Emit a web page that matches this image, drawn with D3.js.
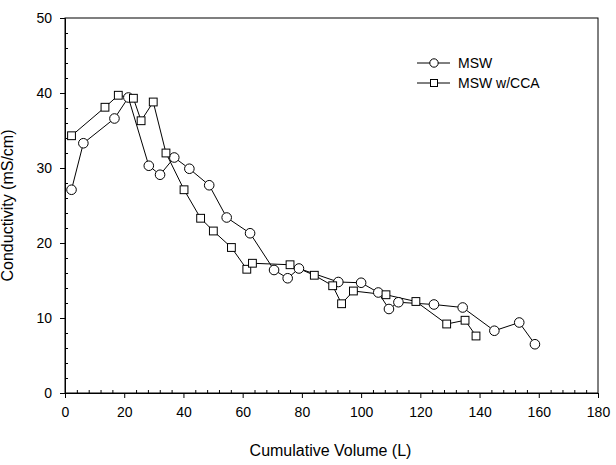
<!DOCTYPE html>
<html>
<head>
<meta charset="utf-8">
<script src="https://cdn.jsdelivr.net/npm/d3@7"></script>
<style>
  body { margin: 0; background: #fff; }
  text { font-family: "Liberation Sans", Arial, sans-serif; fill: #000; }
</style>
</head>
<body>
<svg id="chart" width="616" height="465"></svg>
<script>
// MSW (circles)
const mswVolume = [2.2, 6.2, 16.7, 21.4, 28.3, 32.1, 36.9, 42.0, 48.7, 54.6, 62.5, 70.6, 75.2, 79.0, 92.3, 100.0, 105.8, 109.4, 112.6, 124.6, 134.3, 145.0, 153.4, 158.7];
const mswConductivity = [27.1, 33.3, 36.6, 39.4, 30.3, 29.1, 31.4, 29.9, 27.7, 23.4, 21.3, 16.4, 15.3, 16.6, 14.8, 14.7, 13.4, 11.2, 12.1, 11.8, 11.4, 8.3, 9.4, 6.5];

// MSW w/CCA (squares)
const ccaVolume = [2.2, 13.5, 18.0, 23.1, 25.7, 29.8, 34.1, 40.2, 45.8, 50.1, 56.2, 61.4, 63.3, 76.0, 84.2, 90.4, 93.4, 97.4, 108.4, 118.5, 128.9, 135.1, 138.8];
const ccaConductivity = [34.3, 38.1, 39.7, 39.3, 36.3, 38.8, 32.0, 27.1, 23.3, 21.6, 19.4, 16.5, 17.3, 17.1, 15.7, 14.3, 11.9, 13.6, 13.1, 12.2, 9.2, 9.7, 7.6];

const xTicks = [0, 20, 40, 60, 80, 100, 120, 140, 160, 180];
const yTicks = [0, 10, 20, 30, 40, 50];
const seriesNames = ['MSW', 'MSW w/CCA'];

const svg = d3.select('#chart');
const margin = { left: 65, right: 18, top: 18, bottom: 72 };
const width = 616, height = 465;
const font = '"Liberation Sans", Arial, sans-serif';

const x = d3.scaleLinear().domain([0, 180]).range([margin.left, width - margin.right]);
const y = d3.scaleLinear().domain([0, 50]).range([height - margin.bottom, margin.top]);

// frame
svg.append('rect')
  .attr('x', x(0)).attr('y', y(50))
  .attr('width', x(180) - x(0)).attr('height', y(0) - y(50))
  .attr('fill', 'none').attr('stroke', '#000').attr('stroke-width', 1);

// x axis: major ticks outward, minor ticks inward
const xAxis = svg.append('g').attr('transform', `translate(0,${y(0)})`)
  .call(d3.axisBottom(x).tickValues(xTicks).tickSize(5).tickPadding(9).tickFormat(d3.format('d')));
xAxis.selectAll('text').attr('font-size', '14px').style('font-family', font);
svg.append('g').attr('transform', `translate(0,${y(0)})`)
  .call(d3.axisTop(x).tickValues(d3.range(0, 181, 4).filter(v => v % 20 !== 0)).tickSize(3).tickFormat(''))
  .select('.domain').remove();

const yAxis = svg.append('g').attr('transform', `translate(${x(0)},0)`)
  .call(d3.axisLeft(y).tickValues(yTicks).tickSize(5).tickPadding(8).tickFormat(d3.format('d')));
yAxis.selectAll('text').attr('font-size', '14px').style('font-family', font);
svg.append('g').attr('transform', `translate(${x(0)},0)`)
  .call(d3.axisRight(y).tickValues(d3.range(0, 51, 2).filter(v => v % 10 !== 0)).tickSize(3).tickFormat(''))
  .select('.domain').remove();

// axis titles
svg.append('text')
  .attr('x', (x(0) + x(180)) / 2 - 1).attr('y', 456)
  .attr('text-anchor', 'middle').attr('font-size', '16px')
  .text('Cumulative Volume (L)');
svg.append('text')
  .attr('transform', `translate(13,${(y(0) + y(50)) / 2}) rotate(-90)`)
  .attr('text-anchor', 'middle').attr('font-size', '16px')
  .text('Conductivity (mS/cm)');

const line = d3.line().x(d => x(d[0])).y(d => y(d[1]));
const msw = d3.zip(mswVolume, mswConductivity);
const cca = d3.zip(ccaVolume, ccaConductivity);

const plot = svg.append('g');
plot.append('path').datum(msw).attr('d', line)
  .attr('fill', 'none').attr('stroke', '#000').attr('stroke-width', 1);
plot.append('path').datum(cca).attr('d', line)
  .attr('fill', 'none').attr('stroke', '#000').attr('stroke-width', 1);

plot.selectAll('circle.msw').data(msw).join('circle')
  .attr('class', 'msw')
  .attr('cx', d => x(d[0])).attr('cy', d => y(d[1])).attr('r', 4.8)
  .attr('fill', '#fff').attr('stroke', '#000').attr('stroke-width', 1);

const sq = 7.8;
plot.selectAll('rect.cca').data(cca).join('rect')
  .attr('class', 'cca')
  .attr('x', d => x(d[0]) - sq / 2).attr('y', d => y(d[1]) - sq / 2)
  .attr('width', sq).attr('height', sq)
  .attr('fill', '#fff').attr('stroke', '#000').attr('stroke-width', 1);

// legend
const legend = svg.append('g');
seriesNames.forEach((name, i) => {
  const ly = 63 + i * 20;
  legend.append('line').attr('x1', 417).attr('x2', 450).attr('y1', ly).attr('y2', ly)
    .attr('stroke', '#000').attr('stroke-width', 1);
  if (i === 0) {
    legend.append('circle').attr('cx', 434).attr('cy', ly).attr('r', 4.2)
      .attr('fill', '#fff').attr('stroke', '#000');
  } else {
    legend.append('rect').attr('x', 434 - 3.5).attr('y', ly - 3.5).attr('width', 7).attr('height', 7)
      .attr('fill', '#fff').attr('stroke', '#000');
  }
  legend.append('text').attr('x', 458).attr('y', ly + 5).attr('font-size', '14px').text(name);
});
</script>
</body>
</html>
